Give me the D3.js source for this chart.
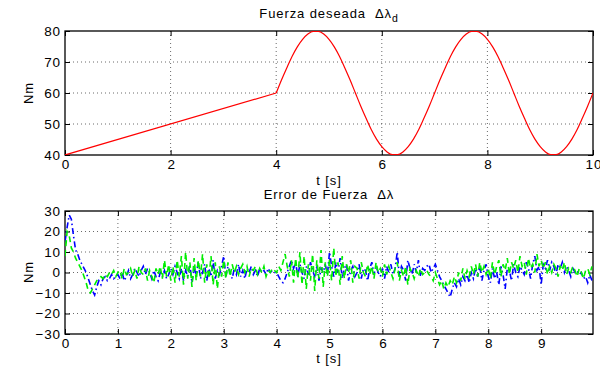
<!DOCTYPE html>
<html>
<head>
<meta charset="utf-8">
<script src="https://cdn.jsdelivr.net/npm/d3@7"></script>
<style>
  body { margin: 0; background: #fff; }
  svg { display: block; font-family: "Liberation Sans", Arial, sans-serif; }
  svg text { letter-spacing: 0.9px; white-space: pre; }
</style>
</head>
<body>
<div id="chart"></div>
<script>
// ---- data ----
// desired force: ramp 0..4 s, then oscillation sampled every 0.1 s from 4 to 10 s
const rampT = [0, 4];
const rampV = [40, 60];
const waveT0 = 4, waveDt = 0.1;
const waveV = [
  60, 64.2, 68.1, 71.8, 74.9, 77.3, 79.0, 79.9, 79.9, 79.0,
  77.3, 74.9, 71.8, 68.1, 64.2, 60, 55.8, 51.9, 48.2, 45.1,
  42.7, 41.0, 40.1, 40.1, 41.0, 42.7, 45.1, 48.2, 51.9, 55.8,
  60, 64.2, 68.1, 71.8, 74.9, 77.3, 79.0, 79.9, 79.9, 79.0,
  77.3, 74.9, 71.8, 68.1, 64.2, 60, 55.8, 51.9, 48.2, 45.1,
  42.7, 41.0, 40.1, 40.1, 41.0, 42.7, 45.1, 48.2, 51.9, 55.8,
  60
];

// force error, sampled every 0.04 s from 0 s (one row per second)
const errDt = 0.04;
const errBlue = [
  15, 22, 28, 26, 18, 11, 9, 6, 4, 2, 0, -3, -6, -9, -11, -7, -4, -6, -3, -2, -4, -3, -1, -3, -2,
  -1, -3, 0, -4, -2, 1, -3, -1, 2, 0, -2, 1, 3, -1, 2, 0, -3, 1, -2, -4, 0, -2, 1, -3, -1,
  2, -1, 3, 0, -3, 2, -4, 1, -2, 4, -5, 2, -1, 5, -3, 0, 4, -4, 2, -2, 6, -3, 1, -1, 3,
  8, -2, 3, 0, -3, 2, -1, 4, -2, 1, -3, 2, 0, 3, -1, 1, -2, 2, 0, 1, -1, 2, 0, 1, 0,
  0, -2, -4, -5, -3, 0, 3, 6, 2, 5, -2, 4, 0, -3, 3, -1, 5, 1, -2, 3, -4, 2, 0, 4, -1,
  10, 3, -2, 5, 0, 7, -3, 2, 4, -4, 1, 3, -2, 0, 4, -3, 2, 1, -4, 2, 5, -1, 3, 0, -2,
  2, -3, 3, 0, 4, -1, 2, 10, -2, 3, 1, -4, 6, 2, -1, 4, 0, 6, -2, 2, 1, 3, 4, 0, 2,
  4, 1, -2, -4, -6, -8, -10, -12, -8, -5, -7, -3, -6, -2, -4, -1, -5, 0, -3, 2, -2, 3, -4, 1, 4,
  -2, -5, 2, -3, 0, -6, 3, -1, -8, 2, 1, -4, 4, 0, -2, 3, 1, -1, 5, 2, -3, 4, 8, 1, 3,
  -6, 4, 2, 6, 1, 5, 3, -1, 4, 2, 5, 0, 3, 1, -2, 2, 0, 1, -1, 0, -3, -2, -5, -1, -4
];
const errGreen = [
  8, 20, 18, 12, 10, 7, 5, 3, 1, -2, -5, -9, -10, -8, -6, -4, -3, -2, -3, -1, -2, 0, -1, 1, -2,
  0, 1, -3, 2, -1, 0, 2, -2, 1, -3, 3, 0, -1, 2, -4, 1, -2, -5, 2, -1, 3, -3, 6, -2, 4,
  -4, 3, -5, 6, -2, 8, -6, 10, -3, 5, -7, 7, -4, 6, -2, 9, -5, 4, -3, 8, -6, 5, -8, 3, -2,
  6, -3, 5, -2, 4, 0, 3, -1, 2, 4, 0, 3, -2, 2, 1, 3, -1, 2, 0, 3, -2, 1, 0, 2, 1,
  0, 3, 1, 5, 9, 3, -2, 6, -5, 7, -3, 10, -6, 8, -8, 4, -4, 9, -9, 6, -3, 11, -7, 5, -2,
  6, -4, 12, -2, 5, -6, 8, -3, 4, 0, 6, -5, 3, 2, -3, 5, 0, -2, 4, -1, 3, -3, 5, 0, 2,
  -2, 4, -1, 3, 0, -3, 2, 5, -4, 1, -2, 3, -6, 2, 0, -3, 1, -2, 2, -1, 0, 1, -1, -2, -4,
  0, -3, -6, -4, -8, -5, -7, -4, -6, -2, -5, 0, -4, 2, -3, 1, -2, 3, -1, 4, -2, 5, 0, 3, -1,
  2, -3, 5, -1, 3, 6, -2, 4, 1, 7, -1, 5, 2, 6, 0, 8, 3, 5, -1, 7, 2, 4, 0, 9, 3,
  6, 2, 5, -1, 3, 0, 4, 2, -2, 3, 1, 5, -1, 2, 0, 3, 1, -2, 2, 0, -3, 1, 2, -1, 3
];

const topXTicks = [0, 2, 4, 6, 8, 10];
const topYTicks = [40, 50, 60, 70, 80];
const botXTicks = [0, 1, 2, 3, 4, 5, 6, 7, 8, 9];
const botYTicks = [-30, -20, -10, 0, 10, 20, 30];

// ---- layout ----
const W = 600, H = 370;
const left = 65, right = 593;

const svg = d3.select("#chart").append("svg")
  .attr("width", W).attr("height", H)
  .attr("viewBox", `0 0 ${W} ${H}`);

// panel — MATLAB-style boxed axes, inward ticks on all sides, dotted grid
function panel(top, bottom, xDomain, yDomain, xTicks, yTicks, id) {
  const x = d3.scaleLinear().domain(xDomain).range([left, right]);
  const y = d3.scaleLinear().domain(yDomain).range([bottom, top]);
  const g = svg.append("g");

  g.append("clipPath").attr("id", id)
    .append("rect").attr("x", left).attr("y", top)
    .attr("width", right - left).attr("height", bottom - top);

  const grid = g.append("g")
    .attr("stroke", "#444").attr("stroke-width", 0.8)
    .attr("stroke-dasharray", "1,3");
  xTicks.filter(t => t > xDomain[0] && t < xDomain[1]).forEach(t => {
    grid.append("line").attr("x1", x(t)).attr("x2", x(t)).attr("y1", top).attr("y2", bottom);
  });
  yTicks.filter(t => t > yDomain[0] && t < yDomain[1]).forEach(t => {
    grid.append("line").attr("x1", left).attr("x2", right).attr("y1", y(t)).attr("y2", y(t));
  });

  const tl = 5;
  const fmt = d => d < 0 ? "\u2212" + Math.abs(d) : String(d);

  const xb = g.append("g").attr("transform", `translate(0,${bottom})`)
    .call(d3.axisBottom(x).tickValues(xTicks).tickSizeInner(-tl).tickSizeOuter(0).tickPadding(4).tickFormat(fmt));
  const xt = g.append("g").attr("transform", `translate(0,${top})`)
    .call(d3.axisTop(x).tickValues(xTicks).tickSizeInner(-tl).tickSizeOuter(0).tickFormat(""));
  const yl = g.append("g").attr("transform", `translate(${left},0)`)
    .call(d3.axisLeft(y).tickValues(yTicks).tickSizeInner(-tl).tickSizeOuter(0).tickPadding(4).tickFormat(fmt));
  const yr = g.append("g").attr("transform", `translate(${right},0)`)
    .call(d3.axisRight(y).tickValues(yTicks).tickSizeInner(-tl).tickSizeOuter(0).tickFormat(""));

  [xb, xt, yl, yr].forEach(a => {
    a.select(".domain").remove();
    a.selectAll(".tick line").attr("stroke", "#000").attr("stroke-width", 1);
    a.selectAll(".tick text").attr("fill", "#000").style("font-size", "13.5px");
  });
  xb.selectAll(".tick text").attr("x", 0.5);

  g.append("rect").attr("x", left).attr("y", top)
    .attr("width", right - left).attr("height", bottom - top)
    .attr("fill", "none").attr("stroke", "#000").attr("stroke-width", 1.3);

  return { g, x, y };
}

// ---- top panel: desired force ----
const p1 = panel(31, 155, [0, 10], [40, 80], topXTicks, topYTicks, "clip1");
const rampPts = rampT.map((t, i) => [t, rampV[i]]);
const wavePts = waveV.map((v, i) => [waveT0 + i * waveDt, v]);
const forceLine = d3.line().x(d => p1.x(d[0])).y(d => p1.y(d[1]));
p1.g.append("path").datum(rampPts)
  .attr("clip-path", "url(#clip1)")
  .attr("fill", "none").attr("stroke", "#ff0000").attr("stroke-width", 1.2)
  .attr("d", forceLine);
p1.g.append("path").datum(wavePts)
  .attr("clip-path", "url(#clip1)")
  .attr("fill", "none").attr("stroke", "#ff0000").attr("stroke-width", 1.2)
  .attr("d", forceLine.curve(d3.curveMonotoneX));

// ---- bottom panel: force error ----
const p2 = panel(211, 334, [0, 9.98], [-30, 30], botXTicks, botYTicks, "clip2");
const errLine = d3.line().x((d, i) => p2.x(i * errDt)).y(d => p2.y(d));
p2.g.append("path").datum(errBlue)
  .attr("clip-path", "url(#clip2)")
  .attr("fill", "none").attr("stroke", "#0000ff").attr("stroke-width", 1.6)
  .attr("stroke-dasharray", "6,3,1.5,3")
  .attr("d", errLine);
p2.g.append("path").datum(errGreen)
  .attr("clip-path", "url(#clip2)")
  .attr("fill", "none").attr("stroke", "#00ee00").attr("stroke-width", 1.6)
  .attr("stroke-dasharray", "6,4")
  .attr("d", errLine);

// ---- text ----
const mid = (left + right) / 2;
const t1 = svg.append("text").attr("x", mid).attr("y", 18)
  .attr("text-anchor", "middle").style("font-size", "13px");
t1.append("tspan").text("Fuerza deseada  \u0394\u03bb");
t1.append("tspan").attr("dy", 4).style("font-size", "10.5px").text("d");

svg.append("text").attr("x", mid).attr("y", 199)
  .attr("text-anchor", "middle").style("font-size", "13px")
  .text("Error de Fuerza  \u0394\u03bb");

svg.append("text").attr("x", mid).attr("y", 185)
  .attr("text-anchor", "middle").style("font-size", "13px").text("t [s]");
svg.append("text").attr("x", mid).attr("y", 363)
  .attr("text-anchor", "middle").style("font-size", "13px").text("t [s]");

[[93], [272]].forEach(([cy]) => {
  svg.append("text")
    .attr("transform", `translate(33,${cy}) rotate(-90)`)
    .attr("text-anchor", "middle").style("font-size", "13px").text("Nm");
});
</script>
</body>
</html>
